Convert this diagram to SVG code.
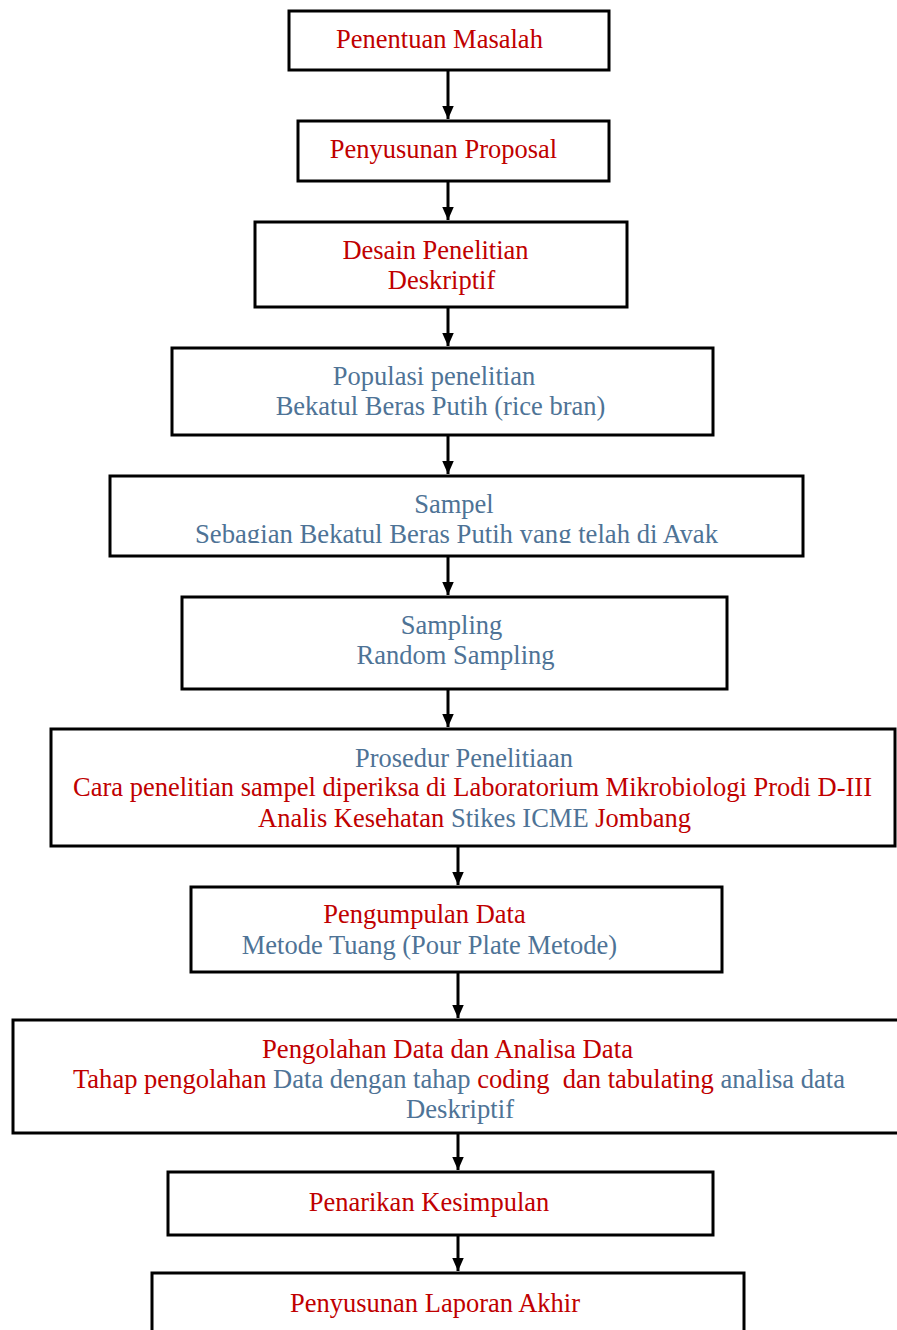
<svg xmlns="http://www.w3.org/2000/svg" width="897" height="1330" viewBox="0 0 897 1330">
<style>
.box{fill:#fff;stroke:#000;stroke-width:3}
.t{font-family:"Liberation Serif","Times New Roman",serif;font-size:26.5px;text-anchor:middle}
.r{fill:#c00000}
.b{fill:#4e7396}
.c{stroke:#000;stroke-width:3;fill:none}
</style>
<defs>
<marker id="ah" markerWidth="5" markerHeight="5" refX="4.5" refY="2.5" orient="auto" markerUnits="strokeWidth">
<path d="M0,0.5 L4.5,2.5 L0,4.5 Z" fill="#000"/>
</marker>
<clipPath id="clipS"><rect x="110" y="476" width="693" height="67"/></clipPath>
</defs>
<rect width="897" height="1330" fill="#fff"/>
<g id="connectors">
<line class="c" x1="448" y1="70" x2="448" y2="119" marker-end="url(#ah)"/>
<line class="c" x1="448" y1="181" x2="448" y2="220" marker-end="url(#ah)"/>
<line class="c" x1="448" y1="307" x2="448" y2="346" marker-end="url(#ah)"/>
<line class="c" x1="448" y1="435" x2="448" y2="474" marker-end="url(#ah)"/>
<line class="c" x1="448" y1="556" x2="448" y2="595" marker-end="url(#ah)"/>
<line class="c" x1="448" y1="689" x2="448" y2="727" marker-end="url(#ah)"/>
<line class="c" x1="458" y1="846" x2="458" y2="885" marker-end="url(#ah)"/>
<line class="c" x1="458" y1="972" x2="458" y2="1018" marker-end="url(#ah)"/>
<line class="c" x1="458" y1="1133" x2="458" y2="1170" marker-end="url(#ah)"/>
<line class="c" x1="458" y1="1235" x2="458" y2="1271" marker-end="url(#ah)"/>
</g>
<g id="n1">
<rect class="box" x="289" y="11" width="320" height="59"/>
<text class="t r" x="439.5" y="48">Penentuan Masalah</text>
</g>
<g id="n2">
<rect class="box" x="298" y="121" width="311" height="60"/>
<text class="t r" x="443.5" y="158">Penyusunan Proposal</text>
</g>
<g id="n3">
<rect class="box" x="255" y="222" width="372" height="85"/>
<text class="t r" x="435.5" y="259">Desain Penelitian</text>
<text class="t r" x="441.5" y="289">Deskriptif</text>
</g>
<g id="n4">
<rect class="box" x="172" y="348" width="541" height="87"/>
<text class="t b" x="434" y="385">Populasi penelitian</text>
<text class="t b" x="440.5" y="415">Bekatul Beras Putih (rice bran)</text>
</g>
<g id="n5">
<rect class="box" x="110" y="476" width="693" height="80"/>
<text class="t b" x="454" y="513">Sampel</text>
<text class="t b" x="456.5" y="543" textLength="523" lengthAdjust="spacingAndGlyphs" clip-path="url(#clipS)">Sebagian Bekatul Beras Putih yang telah di Ayak</text>
</g>
<g id="n6">
<rect class="box" x="182" y="597" width="545" height="92"/>
<text class="t b" x="451.5" y="634">Sampling</text>
<text class="t b" x="455.5" y="664">Random Sampling</text>
</g>
<g id="n7">
<rect class="box" x="51" y="729" width="844" height="117"/>
<text class="t b" x="464" y="767" textLength="218" lengthAdjust="spacingAndGlyphs">Prosedur Penelitiaan</text>
<text class="t r" x="472.5" y="796" textLength="799" lengthAdjust="spacingAndGlyphs">Cara penelitian sampel diperiksa di Laboratorium Mikrobiologi Prodi D-III</text>
<text class="t r" x="474.5" y="827" textLength="433" lengthAdjust="spacingAndGlyphs">Analis Kesehatan <tspan class="b">Stikes ICME</tspan> Jombang</text>
</g>
<g id="n8">
<rect class="box" x="191" y="887" width="531" height="85"/>
<text class="t r" x="424.5" y="923">Pengumpulan Data</text>
<text class="t b" x="429.5" y="954">Metode Tuang (Pour Plate Metode)</text>
</g>
<g id="n9">
<rect class="box" x="13" y="1020" width="890" height="113"/>
<text class="t r" x="447.5" y="1058" textLength="371" lengthAdjust="spacingAndGlyphs">Pengolahan Data dan Analisa Data</text>
<text class="t r" x="459" y="1088" textLength="772" lengthAdjust="spacingAndGlyphs" xml:space="preserve">Tahap pengolahan <tspan class="b">Data dengan tahap </tspan>coding  dan tabulating<tspan class="b"> analisa data</tspan></text>
<text class="t b" x="460" y="1118" textLength="108" lengthAdjust="spacingAndGlyphs">Deskriptif</text>
</g>
<g id="n10">
<rect class="box" x="168" y="1172" width="545" height="63"/>
<text class="t r" x="429" y="1211">Penarikan Kesimpulan</text>
</g>
<g id="n11">
<rect class="box" x="152" y="1273" width="592" height="70"/>
<text class="t r" x="435" y="1312">Penyusunan Laporan Akhir</text>
</g>
</svg>
